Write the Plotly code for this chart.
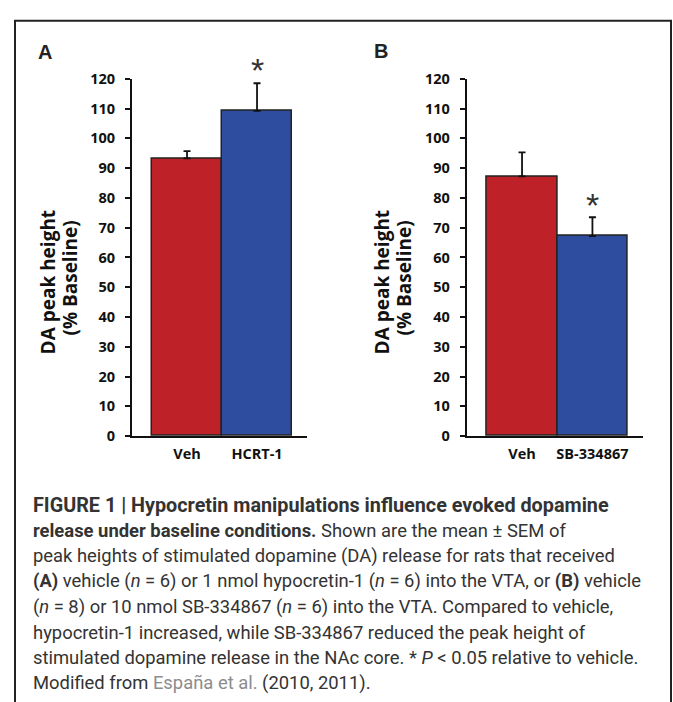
import plotly.graph_objects as go

# ---------------- data ----------------
cats_a = ["Veh", "HCRT-1"]
vals_a = [93.3, 109.2]
sem_a = [2.4, 9.3]

cats_b = ["Veh", "SB-334867"]
vals_b = [87.2, 67.2]
sem_b = [8.1, 6.3]

bar_colors = ["#BE2228", "#2E4D9F"]
y_ticks = list(range(0, 121, 10))

caption_lines = [
    "<b>FIGURE 1 | Hypocretin manipulations influence evoked dopamine</b>",
    "<b>release under baseline conditions.</b> Shown are the mean ± SEM of",
    "peak heights of stimulated dopamine (DA) release for rats that received",
    "<b>(A)</b> vehicle (<i>n</i> = 6) or 1 nmol hypocretin-1 (<i>n</i> = 6) into the VTA, or <b>(B)</b> vehicle",
    "(<i>n</i> = 8) or 10 nmol SB-334867 (<i>n</i> = 6) into the VTA. Compared to vehicle,",
    "hypocretin-1 increased, while SB-334867 reduced the peak height of",
    "stimulated dopamine release in the NAc core. * <i>P</i> &lt; 0.05 relative to vehicle.",
    "Modified from <span style='color:#8c8c8c'>España et al.</span> (2010, 2011).",
]

W, H = 673, 702


def px(x):
    return x / W


def py(y):
    return 1 - y / H


CHART_FONT = "Open Sans, Lato, Arial, sans-serif"
CAP_FONT = "Roboto, Liberation Sans, Arial, sans-serif"

fig = go.Figure()

for cats, vals, sem, xa, ya in ((cats_a, vals_a, sem_a, "x", "y"), (cats_b, vals_b, sem_b, "x2", "y2")):
    fig.add_trace(go.Bar(
        x=cats, y=vals, xaxis=xa, yaxis=ya,
        marker=dict(color=bar_colors, line=dict(color="#222222", width=1.5)),
        error_y=dict(type="data", symmetric=False, array=sem, arrayminus=[0, 0],
                     color="#111111", thickness=1.8, width=3.5),
        showlegend=False, hoverinfo="skip",
    ))

yax = dict(
    range=[0, 120], tickvals=y_ticks, showline=True, linecolor="#111111", linewidth=2,
    ticks="outside", ticklen=5, tickwidth=1.5, tickcolor="#111111",
    showgrid=False, zeroline=False, ticklabelstandoff=7,
    tickfont=dict(family=CHART_FONT, size=14.5, color="#111111", weight="bold"),
    domain=[py(438), py(70.7)], fixedrange=True,
)
xax = dict(
    type="category", range=[-0.786, 1.714], showline=True, linecolor="#111111", linewidth=2,
    ticks="", showgrid=False, zeroline=False, ticklabelstandoff=3,
    tickfont=dict(family=CHART_FONT, size=14.5, color="#111111", weight="bold"),
    fixedrange=True,
)

fig.update_layout(
    width=W, height=H,
    margin=dict(l=0, r=0, t=0, b=0),
    paper_bgcolor="white", plot_bgcolor="white",
    bargap=0,
    xaxis=dict(xax, domain=[px(132), px(307)], anchor="y"),
    yaxis=dict(yax, anchor="x"),
    xaxis2=dict(xax, domain=[px(466.7), px(642.7)], anchor="y2"),
    yaxis2=dict(yax, anchor="x2"),
)

ann = []
# panel letters
ann.append(dict(text="<b>A</b>", x=px(45), y=py(43), showarrow=False, xref="paper", yref="paper",
                xanchor="center", yanchor="middle",
                font=dict(family="Arial, Liberation Sans, sans-serif", size=20, color="#222222")))
ann.append(dict(text="<b>B</b>", x=px(381), y=py(42), showarrow=False, xref="paper", yref="paper",
                xanchor="center", yanchor="middle",
                font=dict(family="Arial, Liberation Sans, sans-serif", size=20, color="#222222")))
# y titles
for x0 in (48, 382):
    ann.append(dict(text="<b>DA peak height</b>", x=px(x0), y=py(280), textangle=-90, showarrow=False,
                    xref="paper", yref="paper", xanchor="center", yanchor="middle",
                    font=dict(family=CHART_FONT, size=19, color="#111111")))
    ann.append(dict(text="<b>(% Baseline)</b>", x=px(x0 + 22), y=py(276), textangle=-90, showarrow=False,
                    xref="paper", yref="paper", xanchor="center", yanchor="middle",
                    font=dict(family=CHART_FONT, size=19, color="#111111")))
# asterisks
for (xx, yy) in ((257, 62), (592, 200)):
    ann.append(dict(text="*", x=px(xx), y=py(yy), showarrow=False, xref="paper", yref="paper",
                    xanchor="center", yanchor="middle",
                    font=dict(family="Liberation Sans, Arial, sans-serif", size=34, color="#333333")))
# caption
for i, line in enumerate(caption_lines):
    ann.append(dict(text=line, x=px(31), y=py(509 + 26.1 * i), showarrow=False,
                    xref="paper", yref="paper", xanchor="left", yanchor="middle", align="left",
                    font=dict(family=CAP_FONT, size=19.8 if i == 0 else 18.4, color="#333333")))

fig.update_layout(annotations=ann)

# frame
fig.add_shape(type="rect", xref="paper", yref="paper",
              x0=px(15), x1=px(671), y0=-0.1, y1=py(11),
              line=dict(color="#222222", width=2), fillcolor="rgba(0,0,0,0)", layer="above")

fig.write_html("out.html", config={"displayModeBar": False},
               post_script="document.body.style.margin='0';document.body.style.overflow='hidden';")
